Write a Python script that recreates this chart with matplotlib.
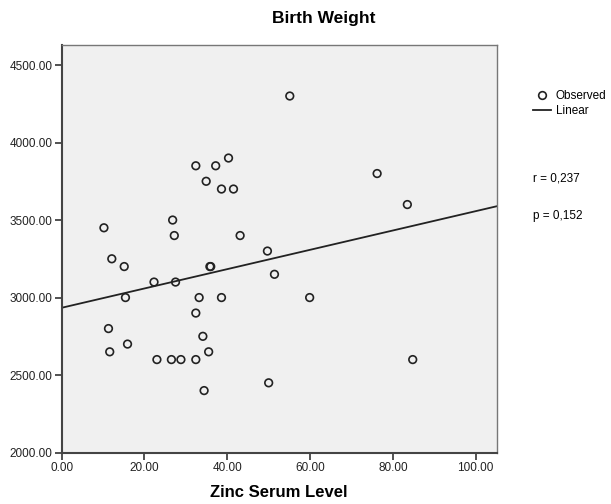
import matplotlib
matplotlib.use("Agg")
import matplotlib.pyplot as plt
from matplotlib.lines import Line2D
import numpy as np

plt.rcParams["font.family"] = ["Liberation Sans", "DejaVu Sans"]

# values (n = 38)
zinc = [10.2, 12.1, 15.1, 26.8, 27.2, 32.4, 37.2, 40.3, 34.9, 38.6,
        41.5, 43.1, 35.8, 36.0, 55.1, 76.2, 83.5, 49.7, 51.4, 22.3,
        27.5, 15.4, 33.2, 38.6, 59.9, 32.4, 11.3, 15.9, 11.6, 34.1,
        35.5, 23.0, 26.5, 28.8, 32.4, 84.8, 34.4, 50.0]
weight = [3450, 3250, 3200, 3500, 3400, 3850, 3850, 3900, 3750, 3700,
          3700, 3400, 3200, 3200, 4300, 3800, 3600, 3300, 3150, 3100,
          3100, 3000, 3000, 3000, 3000, 2900, 2800, 2700, 2650, 2750,
          2650, 2600, 2600, 2600, 2600, 2600, 2400, 2450]
x_ticks = [0, 20, 40, 60, 80, 100]
y_ticks = [2000, 2500, 3000, 3500, 4000, 4500]
stats_text = ["r = 0,237", "p = 0,152"]

x = np.array(zinc)
y = np.array(weight)
slope, intercept = np.polyfit(x, y, 1)

fig = plt.figure(figsize=(6.11, 5.04), dpi=100)
ax = fig.add_axes([0.101, 0.102, 0.712, 0.809])
ax.set_facecolor("#f0f0f0")

ax.scatter(x, y, s=30, facecolors="none", edgecolors="#222222", linewidths=1.2, zorder=3)
xl = np.array([0, 105.1])
ax.plot(xl, intercept + slope * xl, color="#222222", lw=1.3, zorder=2)

ax.set_xlim(0, 105.1)
ax.set_ylim(2000, 4630)
ax.set_xticks(x_ticks)
ax.set_xticklabels([f"{v:.2f}" for v in x_ticks])
ax.set_yticks(y_ticks)
ax.set_yticklabels([f"{v:.2f}" for v in y_ticks])
ax.tick_params(direction="out", length=5, width=1.2, color="#333333",
               labelsize=8.5, pad=1.5, labelcolor="#222222")

for side in ["left", "bottom"]:
    ax.spines[side].set_color("#444444")
    ax.spines[side].set_linewidth(1.5)
for side in ["top", "right"]:
    ax.spines[side].set_color("#777777")
    ax.spines[side].set_linewidth(1.0)

ax.set_xlabel("Zinc Serum Level", fontsize=12, fontweight="bold", labelpad=8)
fig.text(0.53, 0.964, "Birth Weight", fontsize=12.5, fontweight="bold",
         ha="center", va="center")

handles = [
    Line2D([], [], marker="o", ls="none", markersize=5.5, markerfacecolor="none",
           markeredgecolor="#222222", markeredgewidth=1.2),
    Line2D([], [], color="#222222", lw=1.3),
]
fig.legend(handles, ["Observed", "Linear"], loc="upper left",
           bbox_to_anchor=(0.872, 0.822), frameon=False, fontsize=8.5,
           handlelength=1.5, handletextpad=0.45, labelspacing=0.25,
           borderpad=0, borderaxespad=0)

fig.text(0.872, 0.645, stats_text[0], fontsize=8.5, va="center", ha="left")
fig.text(0.872, 0.571, stats_text[1], fontsize=8.5, va="center", ha="left")

fig.savefig("out.png", dpi=100)
